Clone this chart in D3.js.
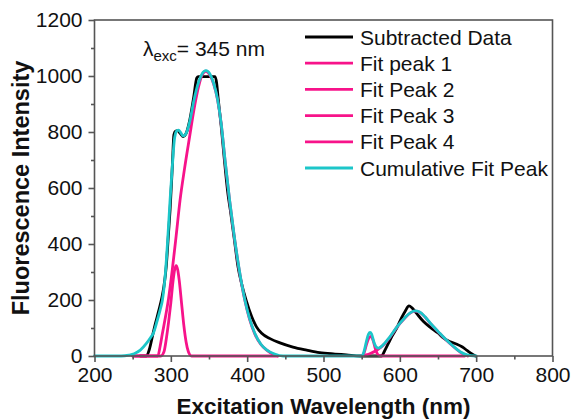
<!DOCTYPE html>
<html>
<head>
<meta charset="utf-8">
<script src="https://cdn.jsdelivr.net/npm/d3@7"></script>
<style>
  html, body { margin: 0; padding: 0; background: #fff; }
  svg { display: block; }
  text { font-family: "Liberation Sans", Arial, sans-serif; fill: #111; }
</style>
</head>
<body>
<svg id="chart" width="572" height="419"></svg>
<script>
// Excitation spectrum (nm, intensity) and its multi-peak fit
const subtractedData = [
  [260,0],[268,0],[272,25],[276,72],[280,118],[284,160],[288,205],[291,250],[294,320],[297,440],
  [299,521],[302,680],[304,790],[306,803],[309,805],[312,796],[316,784],[320,795],[325,845],
  [330,925],[334,993],[336,998],[358,998],[360,975],[362,920],[366,820],[370,705],[375,575],
  [378,520],[383,420],[388,319],[393,255],[398.5,200],[406,140],[412,105],[419,81],[430,62],
  [443,47],[460,32],[478,21],[495,12],[515,7],[530,4],[548,0],[576,0],[580,18],[585,45],
  [590,72],[596,100],[602,135],[607,160],[612,179],[616,172],[622,152],[631,123],[640,102],
  [650,82],[657,65],[665,52],[674,43],[682,32],[688,20],[694,8],[699,0]
];

const fitPeak1 = [
  [250,0],[283,0],[286,35],[289,81],[293,140],[297,205],[302,310],[307,430],[312,555],
  [318,670],[325,790],[330,875],[336,958],[341,1004],[346,1017],[351,1004],[356,972],
  [361,918],[366,828],[371,698],[377,555],[383,428],[389,317],[397,198],[403,133],
  [410,79],[418,41],[426,20],[434,6],[440,0]
];

const fitPeak2 = [
  [250,0],[287,0],[291,15],[294,60],[297,120],[300,190],[303,270],[305,308],[307,323],
  [309,308],[311,270],[314,190],[317,110],[320,50],[323,15],[327,0],[440,0]
];

const fitPeak3 = [
  [550,0],[553,10],[556,38],[559,62],[562,70],[565,55],[568,25],[571,6],[575,0],[685,0]
];

const fitPeak4 = [
  [550,0],[556,4],[562,10],[568,18],[572,25],[578,38],[586,63],[596,102],[606,134],
  [614,154],[620,160],[626,156],[633,139],[640,116],[650,87],[661,56],[670,34],[679,14],
  [685,5],[689,0]
];

const cumulativeFit = [
  [200,0],[235,0],[245,3],[252,8],[260,21],[268,45],[274,68],[277,81],[282,125],[286,165],
  [289,200],[293,300],[296,420],[299,557],[302,680],[305,780],[308,805],[310,807],[313,798],
  [316,786],[320,795],[325,840],[330,910],[336,975],[341,1008],[346,1019],[351,1008],
  [356,975],[361,920],[366,830],[371,700],[377,557],[383,430],[389,319],[397,200],[403,135],
  [410,81],[418,42],[426,21],[436,7],[447,0],[550,0],[553,15],[556,50],[559,78],[561,84],
  [563,78],[566,50],[569,32],[572,28],[575,32],[580,45],[586,65],[596,103],[606,135],
  [614,155],[620,161],[626,157],[633,140],[640,117],[650,88],[661,57],[670,35],[679,15],
  [688,4],[700,0]
];

const xTicks = [200, 300, 400, 500, 600, 700, 800];
const xMinorTicks = [250, 350, 450, 550, 650, 750];
const yTicks = [0, 200, 400, 600, 800, 1000, 1200];
const yMinorTicks = [100, 300, 500, 700, 900, 1100];

const legendLabels = ["Subtracted Data", "Fit peak 1", "Fit Peak 2", "Fit Peak 3", "Fit Peak 4", "Cumulative Fit Peak"];

const BLACK = "#000000", PINK = "#f7138a", CYAN = "#1cc6c9";

const series = [
  { data: subtractedData, color: BLACK },
  { data: fitPeak1, color: PINK },
  { data: fitPeak2, color: PINK },
  { data: fitPeak3, color: PINK },
  { data: fitPeak4, color: PINK },
  { data: cumulativeFit, color: CYAN }
];

const margin = { left: 94.5, right: 19.5, top: 20, bottom: 63 };
const W = 572, H = 419;
const svg = d3.select("#chart");

const x = d3.scaleLinear().domain([200, 800]).range([margin.left, W - margin.right]);
const y = d3.scaleLinear().domain([0, 1200]).range([H - margin.bottom, margin.top]);

const axisColor = "#555";
const tickFont = "21px";

// curves
const line = d3.line()
  .x(d => x(d[0]))
  .y(d => y(d[1]))
  .curve(d3.curveMonotoneX);

svg.append("g").selectAll("path")
  .data(series)
  .join("path")
  .attr("d", d => line(d.data))
  .attr("fill", "none")
  .attr("stroke", d => d.color)
  .attr("stroke-width", 2.8)
  .attr("stroke-linejoin", "round")
  .attr("stroke-linecap", "round");

// frame
svg.append("rect")
  .attr("x", x(200)).attr("y", y(1200))
  .attr("width", x(800) - x(200)).attr("height", y(0) - y(1200))
  .attr("fill", "none").attr("stroke", axisColor).attr("stroke-width", 1.6);

// bottom axis
const gx = svg.append("g").attr("transform", `translate(0,${y(0)})`)
  .call(d3.axisBottom(x).tickValues(xTicks).tickFormat(d3.format("d"))
    .tickSize(6).tickSizeOuter(0).tickPadding(5));
const gxm = svg.append("g").attr("transform", `translate(0,${y(0)})`)
  .call(d3.axisBottom(x).tickValues(xMinorTicks).tickSize(3.5).tickSizeOuter(0).tickFormat(""));

// left axis
const gy = svg.append("g").attr("transform", `translate(${x(200)},0)`)
  .call(d3.axisLeft(y).tickValues(yTicks).tickFormat(d3.format("d"))
    .tickSize(6).tickSizeOuter(0).tickPadding(6));
const gym = svg.append("g").attr("transform", `translate(${x(200)},0)`)
  .call(d3.axisLeft(y).tickValues(yMinorTicks).tickSize(3.5).tickSizeOuter(0).tickFormat(""));

[gx, gxm, gy, gym].forEach(g => {
  g.select(".domain").remove();
  g.selectAll(".tick line").attr("stroke", axisColor).attr("stroke-width", 1.6);
  g.selectAll("text")
    .style("font-family", "'Liberation Sans', Arial, sans-serif")
    .style("font-size", tickFont)
    .attr("fill", "#111");
});

// axis titles
svg.append("text")
  .attr("x", (x(200) + x(800)) / 2).attr("y", 414)
  .attr("text-anchor", "middle")
  .style("font-size", "22.5px").style("font-weight", "bold")
  .text("Excitation Wavelength (nm)");

svg.append("text")
  .attr("transform", `translate(28.5,${(y(0) + y(1200)) / 2}) rotate(-90)`)
  .attr("text-anchor", "middle")
  .style("font-size", "23.5px").style("font-weight", "bold")
  .text("Fluorescence Intensity");

// excitation wavelength annotation
const ann = svg.append("text").attr("x", 143).attr("y", 56).style("font-size", "21px");
ann.append("tspan").text("λ");
ann.append("tspan").attr("dy", 5).style("font-size", "15px").text("exc");
ann.append("tspan").attr("dy", -5).text("= 345 nm");

// legend
const legend = svg.append("g");
const rowY = d3.scaleLinear().domain([0, legendLabels.length - 1]).range([37, 168]);
legendLabels.forEach((label, i) => {
  const yy = rowY(i);
  legend.append("line")
    .attr("x1", 305).attr("x2", 353).attr("y1", yy).attr("y2", yy)
    .attr("stroke", series[i].color).attr("stroke-width", 2.8);
  legend.append("text")
    .attr("x", 360).attr("y", yy + 7.5)
    .style("font-size", "21px")
    .text(label);
});
</script>
</body>
</html>
